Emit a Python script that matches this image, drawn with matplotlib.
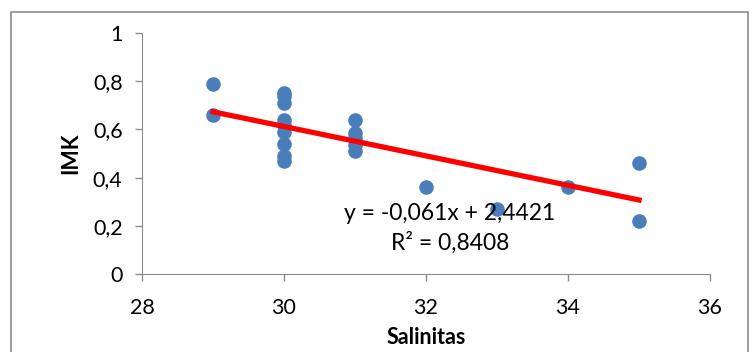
import numpy as np
import matplotlib.pyplot as plt
from matplotlib.patches import Rectangle

# Data
salinitas = [29, 29,
             30, 30, 30, 30, 30, 30, 30, 30, 30,
             31, 31, 31, 31, 31,
             32, 33, 34, 35, 35]
imk = [0.79, 0.66,
       0.75, 0.74, 0.71, 0.64, 0.62, 0.59, 0.54, 0.49, 0.47,
       0.64, 0.585, 0.565, 0.535, 0.51,
       0.36, 0.27, 0.36, 0.46, 0.22]

# Trendline as shown on the chart
slope = -0.061
intercept = 2.4421
r2 = 0.8408

plt.rcParams['font.family'] = ['Lato', 'DejaVu Sans']

fig = plt.figure(figsize=(7.55, 3.52), dpi=100)
ax = fig.add_axes([142 / 755, 1 - 274 / 352, (710 - 142) / 755, (274 - 33) / 352])

# outer chart border
fig.patches.append(Rectangle((11 / 755, -0.1), (748 - 11) / 755, 1.1 - 12 / 352,
                             transform=fig.transFigure, fill=False,
                             edgecolor='#8c8c8c', linewidth=1.2))

ax.scatter(salinitas, imk, s=90, color='#4a7ebb', zorder=3)

xs = np.array([min(salinitas), max(salinitas)])
ax.plot(xs, slope * xs + intercept, color='#ff0000', linewidth=3.8, zorder=4)

ax.text(450 / 755, 1 - 213 / 352, "y = -0,061x + 2,4421", transform=fig.transFigure,
        fontsize=16.5, ha='center', va='center', zorder=5)
ax.text(450 / 755, 1 - 243 / 352, "R² = 0,8408", transform=fig.transFigure,
        fontsize=16.5, ha='center', va='center', zorder=5)

ax.set_xlim(28, 36)
ax.set_ylim(0, 1)
ax.set_xticks([28, 30, 32, 34, 36])
ax.set_yticks([0, 0.2, 0.4, 0.6, 0.8, 1])
ax.set_xticklabels(['28', '30', '32', '34', '36'])
ax.set_yticklabels(['0', '0,2', '0,4', '0,6', '0,8', '1'])
ax.tick_params(labelsize=15.5, color='#8c8c8c', length=5, width=1)
ax.tick_params(axis='y', pad=9)
ax.tick_params(axis='x', pad=12)

for side in ['top', 'right']:
    ax.spines[side].set_visible(False)
for side in ['left', 'bottom']:
    ax.spines[side].set_color('#8c8c8c')

ax.set_xlabel('Salinitas', fontsize=15.5, fontweight='bold', labelpad=7)
ax.set_ylabel('IMK', fontsize=15.5, fontweight='bold', labelpad=8)

fig.savefig('out.png', dpi=100)
